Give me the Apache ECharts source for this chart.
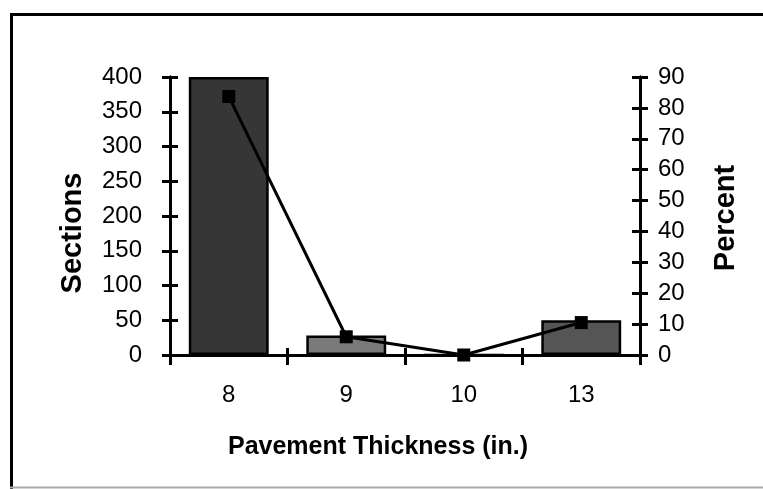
<!DOCTYPE html>
<html>
<head>
<meta charset="utf-8">
<script src="https://cdn.jsdelivr.net/npm/echarts@6/dist/echarts.min.js"></script>
<style>
html,body{margin:0;padding:0;background:#fff;}
#c{width:763px;height:489px;}
</style>
</head>
<body>
<div id="c"></div>
<script>
var categories = ['8', '9', '10', '13'];
var sections = [400, 28, 0, 50];
var percent = [83.7, 5.9, 0, 10.5];
var sectionTicks = [0, 50, 100, 150, 200, 250, 300, 350, 400];
var percentTicks = [0, 10, 20, 30, 40, 50, 60, 70, 80, 90];
var barColors = ['#363636', '#7a7a7a', '#7a7a7a', '#555555'];

var FONT = '"Liberation Sans", Arial, Helvetica, sans-serif';
var chart = echarts.init(document.getElementById('c'));

function yAx(pos, ticks, showLabel, inside, margin) {
  return {
    type: 'value', position: pos,
    min: ticks[0], max: ticks[ticks.length - 1], interval: ticks[1] - ticks[0],
    splitLine: {show: false},
    axisLine: {show: true, lineStyle: {color: '#000', width: 3}},
    axisTick: {show: true, inside: inside, length: 8, lineStyle: {color: '#000', width: 3}},
    axisLabel: {show: showLabel, color: '#000', fontFamily: FONT, fontSize: 24, margin: margin}
  };
}

chart.setOption({
  animation: false,
  backgroundColor: '#fff',
  grid: {left: 170, right: 123, top: 77, bottom: 134, containLabel: false},
  xAxis: [{
    type: 'category', data: categories, position: 'bottom',
    axisLine: {show: true, lineStyle: {color: '#000', width: 3}},
    axisTick: {show: true, length: 10, lineStyle: {color: '#000', width: 3}},
    axisLabel: {color: '#000', fontFamily: FONT, fontSize: 24, margin: 28}
  }, {
    type: 'category', data: categories, position: 'bottom',
    axisLine: {show: false},
    axisTick: {show: true, inside: true, length: 7, lineStyle: {color: '#000', width: 3}},
    axisLabel: {show: false}
  }],
  yAxis: [
    yAx('left', sectionTicks, true, false, 28),
    yAx('right', percentTicks, true, false, 18),
    yAx('left', sectionTicks, false, true, 8),
    yAx('right', percentTicks, false, true, 8)
  ],
  series: [{
    type: 'bar', name: 'Sections', xAxisIndex: 0, yAxisIndex: 0,
    barWidth: '68%',
    data: sections.map(function (v, i) {
      return {value: v, itemStyle: {color: barColors[i]}};
    }),
    itemStyle: {borderColor: '#000', borderWidth: 2.5}
  }, {
    type: 'line', name: 'Percent', xAxisIndex: 0, yAxisIndex: 1,
    data: percent, z: 5,
    symbol: 'rect', symbolSize: 13,
    lineStyle: {color: '#000', width: 3},
    itemStyle: {color: '#000'}
  }],
  graphic: [
    {type: 'rect', left: 9, top: 12, shape: {width: 800, height: 520}, silent: true,
     style: {fill: 'none', stroke: '#000', lineWidth: 3}},
    {type: 'line', shape: {x1: 10, y1: 487.5, x2: 763, y2: 487.5}, silent: true,
     style: {stroke: '#aaa', lineWidth: 2}},
    {type: 'text', x: 73, y: 233, rotation: Math.PI / 2,
     style: {text: 'Sections', font: 'bold 29px ' + FONT, fill: '#000', align: 'center', verticalAlign: 'middle'}},
    {type: 'text', x: 726, y: 218, rotation: Math.PI / 2,
     style: {text: 'Percent', font: 'bold 29px ' + FONT, fill: '#000', align: 'center', verticalAlign: 'middle'}},
    {type: 'text', x: 378, y: 447,
     style: {text: 'Pavement Thickness (in.)', font: 'bold 25px ' + FONT, fill: '#000', align: 'center', verticalAlign: 'middle'}}
  ]
});
</script>
</body>
</html>
